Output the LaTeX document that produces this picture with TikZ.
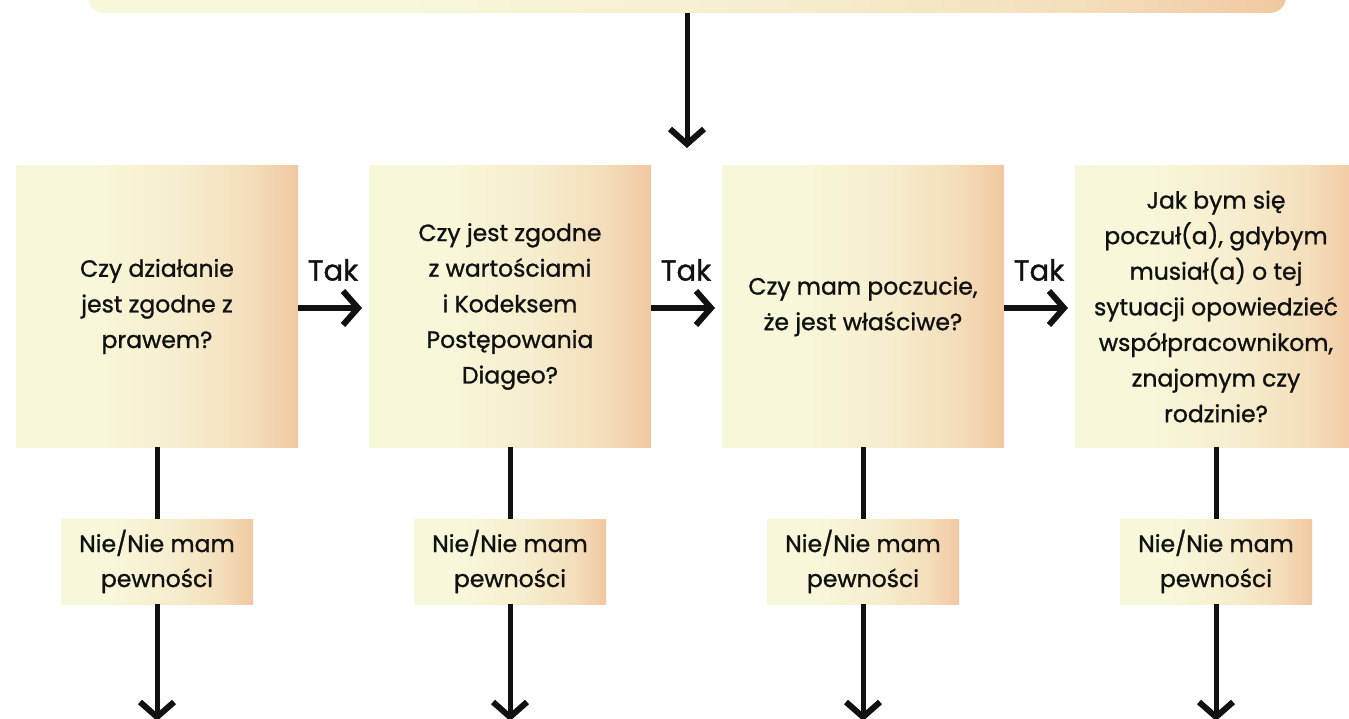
\documentclass[tikz,border=0pt]{standalone}
\usepackage{fontspec}
\setmainfont{Poppins}[FakeBold=1.1]
\usetikzlibrary{arrows.meta}
\definecolor{cA}{HTML}{F8F7DA}
\definecolor{cB}{HTML}{F6EDCD}
\definecolor{cD}{HTML}{F4DDBA}
\definecolor{cC}{HTML}{F1C8A0}
\definecolor{ink}{HTML}{111111}
\pgfdeclarehorizontalshading{warm}{100bp}{color(0bp)=(cA); color(25bp)=(cA); color(38bp)=(cA); color(55bp)=(cB); color(67bp)=(cD); color(75bp)=(cC); color(100bp)=(cC)}
\tikzset{
  qbox/.style={shading=warm, minimum width=282pt, minimum height=281pt, inner sep=0pt,
    align=center, text=ink, font=\fontsize{23.5}{35.6}\selectfont},
  nbox/.style={shading=warm, minimum width=192pt, minimum height=85pt, inner sep=0pt,
    align=center, text=ink, font=\fontsize{23.5}{35}\selectfont},
  topbar/.style={shading=warm, minimum width=1198pt, minimum height=60pt, rounded corners=16pt, inner sep=0pt},
  conn/.style={draw=ink, line width=5pt},
  arr/.style={conn, -{Straight Barb[length=15pt, width=34pt, line width=6pt]}},
  taklbl/.style={text=ink, font=\fontsize{29}{32}\selectfont, inner sep=0pt}
}
\begin{document}
\begin{tikzpicture}[x=1pt, y=-1pt]
\useasboundingbox (0,0) rectangle (1349,719);
\clip (0,0) rectangle (1349,719);
\node[topbar] (top) at (687,-17) {};
\node[qbox] (q1) at (157,306.5) {Czy działanie\\jest zgodne z\\prawem?};
\node[qbox] (q2) at (510,306.5) {Czy jest zgodne\\z wartościami\\i Kodeksem\\Postępowania\\Diageo?};
\node[qbox] (q3) at (863,306.5) {Czy mam poczucie,\\że jest właściwe?};
\node[qbox] (q4) at (1216,306.5) {Jak bym się\\poczuł(a), gdybym\\musiał(a) o tej\\sytuacji opowiedzieć\\współpracownikom,\\znajomym czy\\rodzinie?};
\foreach \i/\x in {1/157,2/510,3/863,4/1216}{
  \node[nbox] (n\i) at (\x,561.5) {Nie/Nie mam\\pewności};
  \coordinate (b\i) at (\x,721);
  \draw[conn] (q\i.south) -- (n\i.north);
  \draw[arr] (n\i.south) -- (b\i);
}
\coordinate (t0) at (687,148);
\draw[arr] (top.south) -- (t0);
\foreach \i/\j/\x in {1/2/333,2/3/686,3/4/1039}{
  \coordinate (h\i) at (\x+29,308);
  \draw[arr] (q\i.east |- h\i) -- (h\i);
  \node[taklbl] (tak\i) at (\x,270) {Tak};
}
\end{tikzpicture}
\end{document}
